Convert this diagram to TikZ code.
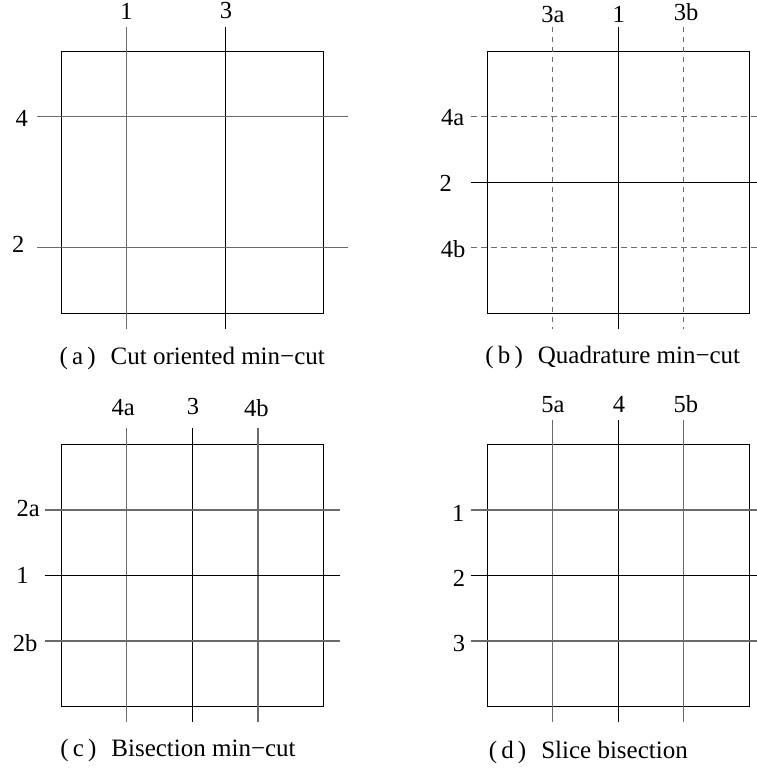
\documentclass[tikz,border=0pt]{standalone}
\usepackage{fontspec}
\setmainfont{Liberation Serif}
\begin{document}
\begin{tikzpicture}[x=1pt,y=-1pt,
  frame/.style={draw=black,line width=1pt},
  cutgray/.style={draw=cutgrey,line width=1.5pt},
  cutblack/.style={draw=black,line width=1.1pt},
  cutdash/.style={draw=cutgrey,line width=1.5pt,dash pattern=on 5.5pt off 4.5pt},
  lab/.style={inner sep=0pt,anchor=base,font=\fontsize{24.5}{28}\selectfont},
  captext/.style={inner sep=0pt,anchor=base,font=\fontsize{25}{29}\selectfont}]
\definecolor{cutgrey}{HTML}{6A6A6A}
\useasboundingbox (0,0) rectangle (757,769);
% ---------- (a)
\draw[frame] (61.3,51.3) rectangle (323.3,313.3);
\coordinate (a1t) at (126.7,26.7); \coordinate (a1b) at (126.7,329.3);
\coordinate (a3t) at (225.3,26.7); \coordinate (a3b) at (225.3,329.3);
\coordinate (a4l) at (37,116.7);   \coordinate (a4r) at (348,116.7);
\coordinate (a2l) at (37,247.7);   \coordinate (a2r) at (348,247.7);
\draw[cutgray] (a1t) -- (a1b);
\draw[cutblack] (a3t) -- (a3b);
\draw[cutgray] (a4l) -- (a4r);
\draw[cutgray] (a2l) -- (a2r);
\node[lab] (la1) at (126.5,19.5) {1};
\node[lab] (la3) at (226,18.2) {3};
\node[lab] (la4) at (21.7,126.7) {4};
\node[lab] (la2) at (18.3,252.7) {2};
\node[captext] (capa) at (192.2,364) {(\,a\,)\hspace{0.6em}Cut oriented min−cut};
% ---------- (b)
\draw[frame] (487.3,51.3) rectangle (749.3,313.3);
\coordinate (b3at) at (552.7,26.7); \coordinate (b3ab) at (552.7,329.3);
\coordinate (b1t) at (618.3,26.7);  \coordinate (b1b) at (618.3,329.3);
\coordinate (b3bt) at (683.7,26.7); \coordinate (b3bb) at (683.7,329.3);
\coordinate (b4al) at (471,116.7);  \coordinate (b4ar) at (757,116.7);
\coordinate (b2l) at (471,182.3);   \coordinate (b2r) at (757,182.3);
\coordinate (b4bl) at (471,247.7);  \coordinate (b4br) at (757,247.7);
\draw[cutdash] (b3at) -- (b3ab);
\draw[cutblack] (b1t) -- (b1b);
\draw[cutdash] (b3bt) -- (b3bb);
\draw[cutdash] (b4al) -- (b4ar);
\draw[cutblack] (b2l) -- (b2r);
\draw[cutdash] (b4bl) -- (b4br);
\node[lab] (lb3a) at (553,22) {3a};
\node[lab] (lb1) at (618.8,22) {1};
\node[lab] (lb3b) at (686,20) {3b};
\node[lab] (lb4a) at (452.7,125) {4a};
\node[lab] (lb2) at (445.7,191.7) {2};
\node[lab] (lb4b) at (453,257.7) {4b};
\node[captext] (capb) at (612.8,363.3) {(\,b\,)\hspace{0.6em}Quadrature min−cut};
% ---------- (c)
\draw[frame] (61.3,444.3) rectangle (323.3,706.3);
\coordinate (c4at) at (126.7,428.3); \coordinate (c4ab) at (126.7,722.3);
\coordinate (c3t) at (192.3,428.3);  \coordinate (c3b) at (192.3,722.3);
\coordinate (c4bt) at (258,428.3);   \coordinate (c4bb) at (258,722.3);
\coordinate (c2al) at (45,510);      \coordinate (c2ar) at (340,510);
\coordinate (c1l) at (45,575.3);     \coordinate (c1r) at (340,575.3);
\coordinate (c2bl) at (45,641);      \coordinate (c2br) at (340,641);
\draw[cutgray] (c4at) -- (c4ab);
\draw[cutblack] (c3t) -- (c3b);
\draw[cutgray] (c4bt) -- (c4bb);
\draw[cutgray] (c2al) -- (c2ar);
\draw[cutblack] (c1l) -- (c1r);
\draw[cutgray] (c2bl) -- (c2br);
\node[lab] (lc4a) at (123.3,415) {4a};
\node[lab] (lc3) at (193,414.3) {3};
\node[lab] (lc4b) at (256.3,416.7) {4b};
\node[lab] (lc2a) at (28.3,516.7) {2a};
\node[lab] (lc1) at (22.5,583.3) {1};
\node[lab] (lc2b) at (25,651) {2b};
\node[captext] (capc) at (178,756.7) {(\,c\,)\hspace{0.6em}Bisection min−cut};
% ---------- (d)
\draw[frame] (487.3,444.3) rectangle (749.3,706.3);
\coordinate (d5at) at (552.7,420); \coordinate (d5ab) at (552.7,722.3);
\coordinate (d4t) at (618.3,420);  \coordinate (d4b) at (618.3,722.3);
\coordinate (d5bt) at (683.7,420); \coordinate (d5bb) at (683.7,722.3);
\coordinate (d1l) at (471,510);    \coordinate (d1r) at (757,510);
\coordinate (d2l) at (471,575.3);  \coordinate (d2r) at (757,575.3);
\coordinate (d3l) at (471,641);    \coordinate (d3r) at (757,641);
\draw[cutgray] (d5at) -- (d5ab);
\draw[cutblack] (d4t) -- (d4b);
\draw[cutgray] (d5bt) -- (d5bb);
\draw[cutgray] (d1l) -- (d1r);
\draw[cutblack] (d2l) -- (d2r);
\draw[cutgray] (d3l) -- (d3r);
\node[lab] (ld5a) at (553,412.7) {5a};
\node[lab] (ld4) at (619,412.7) {4};
\node[lab] (ld5b) at (685.8,412.7) {5b};
\node[lab] (ld1) at (458.3,521.7) {1};
\node[lab] (ld2) at (459,586.7) {2};
\node[lab] (ld3) at (459,651) {3};
\node[captext] (capd) at (588.3,758) {(\,d\,)\hspace{0.6em}Slice bisection};
\end{tikzpicture}
\end{document}
